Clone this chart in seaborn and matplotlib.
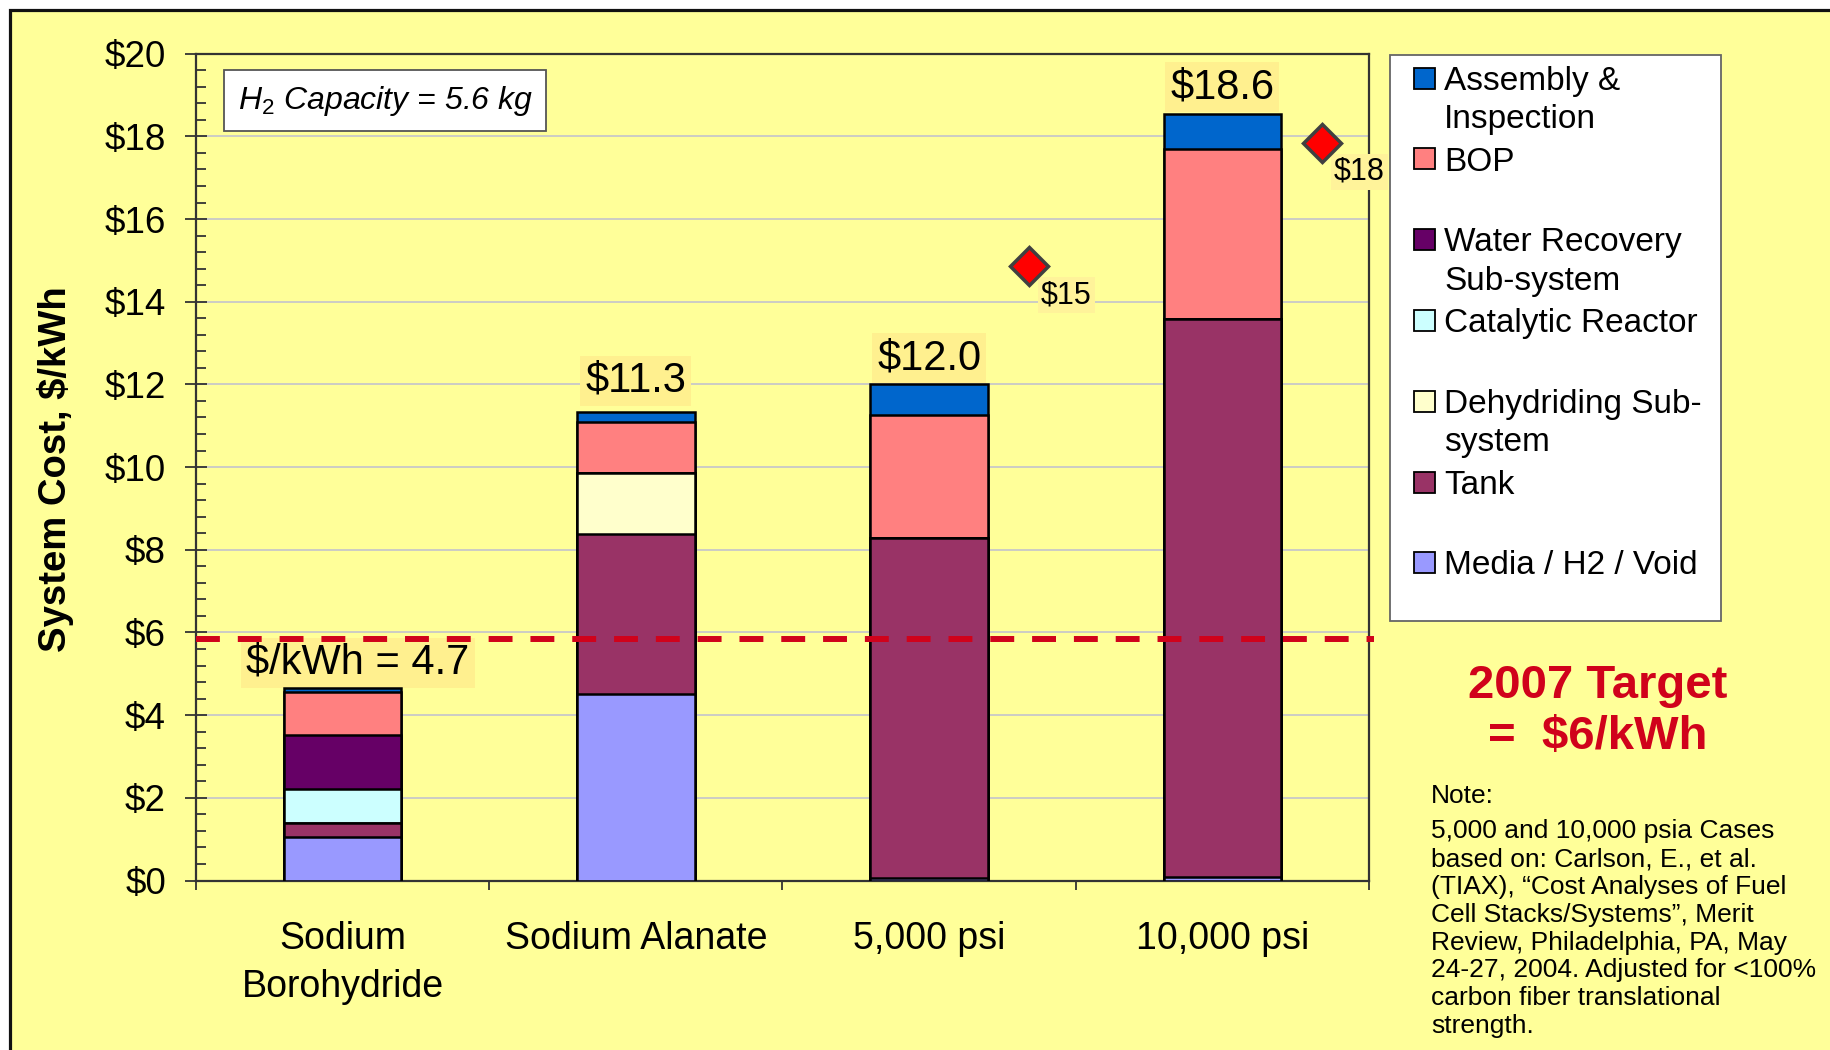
import numpy as np
import pandas as pd
import matplotlib
matplotlib.use("Agg")
import matplotlib.pyplot as plt
import seaborn as sns
from matplotlib.patches import Rectangle
from matplotlib.ticker import MultipleLocator, FixedLocator, FuncFormatter

# ---------------- data ----------------
categories = ["Sodium\nBorohydride", "Sodium Alanate", "5,000 psi", "10,000 psi"]
# stacking order bottom -> top
components = ["Media / H2 / Void", "Tank", "Dehydriding Sub-system", "Catalytic Reactor",
              "Water Recovery Sub-system", "BOP", "Assembly & Inspection"]
media = [1.06, 4.52, 0.07, 0.08]
tank = [0.34, 3.86, 8.22, 13.50]
dehydriding = [0.00, 1.48, 0.00, 0.00]
catalytic = [0.82, 0.00, 0.00, 0.00]
water_recovery = [1.31, 0.00, 0.00, 0.00]
bop = [1.02, 1.22, 2.98, 4.11]
assembly = [0.10, 0.26, 0.73, 0.86]
total_labels = ["$/kWh = 4.7", "$11.3", "$12.0", "$18.6"]
tiax_categories = ["5,000 psi", "10,000 psi"]
tiax_values = [14.86, 17.85]
tiax_labels = ["$15", "$18"]
target_value = 5.85
legend_labels = ["Assembly &\nInspection", "BOP", "Water Recovery\nSub-system", "Catalytic Reactor",
                 "Dehydriding Sub-\nsystem", "Tank", "Media / H2 / Void"]
note_title = "Note:"
note_body = ("5,000 and 10,000 psia Cases\nbased on: Carlson, E., et al.\n"
             "(TIAX), \u201cCost Analyses of Fuel\nCell Stacks/Systems\u201d, Merit\n"
             "Review, Philadelphia, PA, May\n24-27, 2004. Adjusted for <100%\n"
             "carbon fiber translational\nstrength.")

colors = {
    "Media / H2 / Void": "#9999FF",
    "Tank": "#993366",
    "Dehydriding Sub-system": "#FFFFCC",
    "Catalytic Reactor": "#CCFFFF",
    "Water Recovery Sub-system": "#660066",
    "BOP": "#FF8080",
    "Assembly & Inspection": "#0066CC",
}
# label offsets (points) for the total labels
label_offsets = [(11, 4), (0, 8), (0, 4.5), (0, 4.5)]

series = [media, tank, dehydriding, catalytic, water_recovery, bop, assembly]
rows = []
for comp, vals in zip(components, series):
    for cat, v in zip(categories, vals):
        rows.append({"category": cat, "component": comp, "value": v})
df = pd.DataFrame(rows)
df["component"] = pd.Categorical(df["component"], components, ordered=True)
df = df.sort_values(["category", "component"])
df["cum"] = df.groupby("category", sort=False)["value"].cumsum()

# ---------------- style ----------------
sns.set_style("ticks")
plt.rcParams["font.family"] = ["Liberation Sans", "DejaVu Sans"]
plt.rcParams["mathtext.fontset"] = "custom"
plt.rcParams["mathtext.it"] = "Liberation Sans:italic"
plt.rcParams["mathtext.rm"] = "Liberation Sans"
for key in ["text.color", "axes.labelcolor", "xtick.labelcolor", "ytick.labelcolor"]:
    plt.rcParams[key] = "black"

W, H = 1831, 1050
fig = plt.figure(figsize=(W / 100, H / 100), dpi=100, facecolor="white")

# yellow slide background with dark border
bg = Rectangle((10 / W, -0.02), 1.05, (H - 10) / H + 0.02, transform=fig.transFigure,
               facecolor="#FFFF99", edgecolor="#111111", linewidth=2.3, zorder=-5)
fig.patches.append(bg)

ax = fig.add_axes([196 / W, 1 - 880.5 / H, (1369 - 196) / W, (880.5 - 53.7) / H])
ax.set_facecolor("none")
ax.set_zorder(1)

# stacked bars: draw cumulative totals from the top component down
for comp in reversed(components):
    sub = df[df["component"] == comp]
    sns.barplot(data=sub, x="category", y="cum", order=categories, color=colors[comp],
                saturation=1, width=0.40, edgecolor="black", linewidth=1.8,
                errorbar=None, ax=ax, zorder=3)

totals = df.groupby("category", sort=False)["value"].sum().reindex(categories)
for i, (cat, lab, off) in enumerate(zip(categories, total_labels, label_offsets)):
    ax.annotate(lab, (i, totals[cat]), xytext=off, textcoords="offset points",
                ha="center", va="bottom", fontsize=30, color="black", zorder=2.5,
                bbox=dict(boxstyle="square,pad=0.12", fc="#FFF08F", ec="none"))

# TIAX comparison diamonds
pos = {c: i for i, c in enumerate(categories)}
tx = [pos[c] + 0.34 for c in tiax_categories]
ax.plot(tx, tiax_values, linestyle="none", marker="D", markersize=19,
        markerfacecolor="#FF0000", markeredgecolor="#404040", markeredgewidth=2.5,
        zorder=7, clip_on=False)
for x, v, lab in zip(tx, tiax_values, tiax_labels):
    ax.annotate(lab, (x, v), xytext=(27, -21), textcoords="offset points",
                ha="center", va="center", fontsize=22, zorder=6,
                bbox=dict(boxstyle="square,pad=0.1", fc="#FFF39A", ec="none"))

# target line
ax.axhline(target_value, xmin=0, xmax=1.004, color="#D0021B", linewidth=4.3,
           dashes=(4, 3), zorder=5, clip_on=False)

# axes cosmetics
ax.set_xlim(-0.5, 3.5)
ax.set_ylim(0, 20)
ax.yaxis.set_major_locator(MultipleLocator(2))
ax.yaxis.set_minor_locator(MultipleLocator(0.4))
ax.yaxis.set_major_formatter(FuncFormatter(lambda v, p: f"${v:.0f}"))
ax.set_xticks(range(len(categories)))
ax.set_xticklabels(categories, fontsize=27, linespacing=1.45)
ax.xaxis.set_minor_locator(FixedLocator(np.arange(-0.5, 4.0, 1.0)))
ax.tick_params(axis="x", which="major", length=0, pad=29, labelcolor="black")
ax.tick_params(axis="x", which="minor", direction="out", length=6.5, width=1.3, color="#333333")
ax.tick_params(axis="y", which="major", direction="inout", length=16, width=1.3,
               color="#333333", labelsize=26.5, pad=13.5, labelcolor="black")
ax.tick_params(axis="y", which="minor", direction="in", length=7, width=1.3, color="#333333")
for s in ax.spines.values():
    s.set_visible(True)
    s.set_color("#333333")
    s.set_linewidth(1.6)
ax.yaxis.grid(True, which="major", color="#C8C8C8", linewidth=1.3)
ax.set_axisbelow(True)
ax.set_xlabel("")
ax.set_ylabel("System Cost, $/kWh", fontsize=27.5, fontweight="bold", color="black")
ax.yaxis.set_label_coords(-0.104, 0.4976)

# capacity box
ax.text(0.1612, 0.9432, r"$H_2$ Capacity = 5.6 kg", transform=ax.transAxes,
        ha="center", va="center", fontsize=23, style="italic", zorder=8,
        bbox=dict(boxstyle="square,pad=0.42", fc="white", ec="#555555", lw=1.3))

# manual legend
fig.patches.append(Rectangle((1390 / W, 1 - 621 / H), (1721 - 1390) / W, (621 - 55) / H,
                             transform=fig.transFigure, facecolor="white",
                             edgecolor="#666666", linewidth=1.3, zorder=2))
legend_comps = list(reversed(components))
for k, (comp, lab) in enumerate(zip(legend_comps, legend_labels)):
    c = 78.2 + 80.77 * k
    fig.patches.append(Rectangle((1414 / W, 1 - (c + 10.5) / H), 21 / W, 21 / H,
                                 transform=fig.transFigure, facecolor=colors[comp],
                                 edgecolor="black", linewidth=1.3, zorder=3))
    fig.text(1444 / W, 1 - (c - 12.4) / H, lab, ha="left", va="top", fontsize=24,
             linespacing=1.3, zorder=4, color="black")

# target text & note
fig.text(1598 / W, 0.3222, "2007 Target\n=  $6/kWh", ha="center", va="center",
         multialignment="center", fontsize=34, fontweight="bold", color="#D0021B",
         linespacing=1.22)
fig.text(1431 / W, 1 - 803.3 / H, note_title, ha="left", va="baseline", fontsize=19,
         color="black")
fig.text(1431 / W, 1 - (838.3 - 19 * 1.389 * 0.716) / H, note_body, ha="left", va="top",
         fontsize=19, linespacing=1.2, color="black")

fig.savefig("out.png", dpi=100, facecolor=fig.get_facecolor())
